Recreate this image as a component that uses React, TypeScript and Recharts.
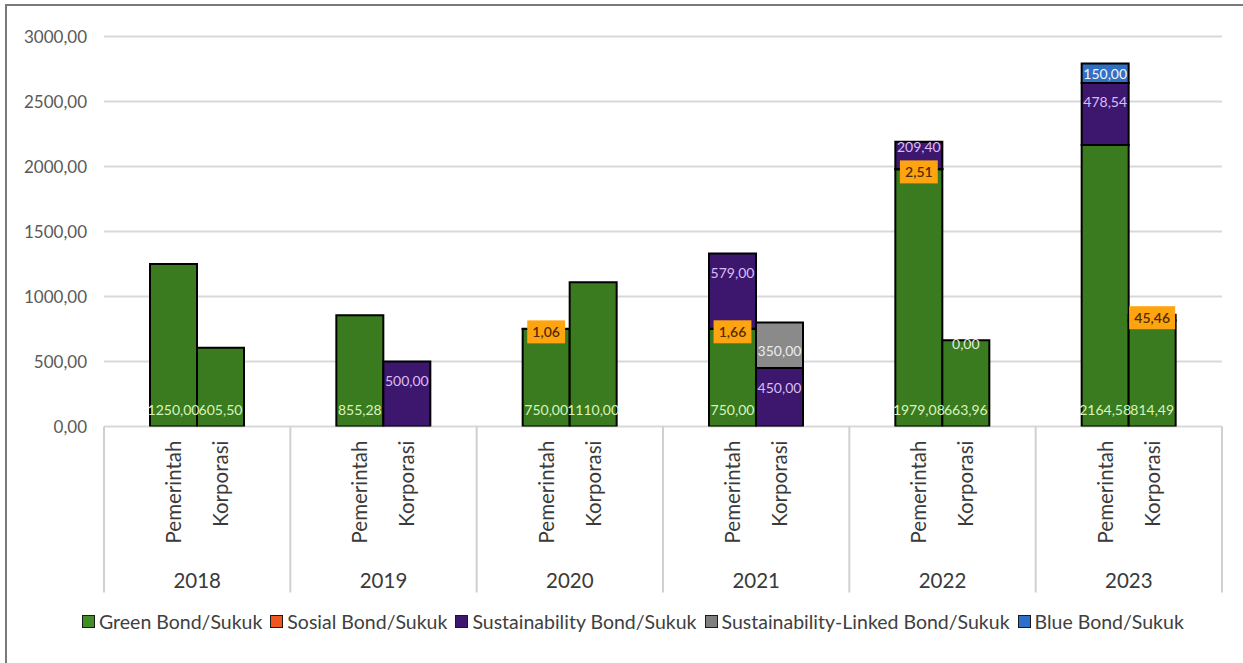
import React from "react";
import { Bar, BarChart, CartesianGrid, LabelList, XAxis, YAxis } from "recharts";

// Issuance per year, split into government (Pemerintah) and corporate (Korporasi) stacks
const years = ["2018", "2019", "2020", "2021", "2022", "2023"];

const govGreen = [1250.0, 855.28, 750.0, 750.0, 1979.08, 2164.58];
const govSosial = [null, null, 1.06, 1.66, 2.51, null];
const govSust = [null, null, null, 579.0, 209.4, 478.54];
const govLinked = [null, null, null, null, null, null];
const govBlue = [null, null, null, null, null, 150.0];

const corpGreen = [605.5, null, 1110.0, null, 663.96, 814.49];
const corpSosial = [null, null, null, null, null, 45.46];
const corpSust = [null, 500.0, null, 450.0, null, null];
const corpLinked = [null, null, null, 350.0, 0, null];
const corpBlue = [null, null, null, null, null, null];

const yTicks = [0, 500, 1000, 1500, 2000, 2500, 3000];
const subLabels = ["Pemerintah", "Korporasi"];

const series = [
  { key: "green", name: "Green Bond/Sukuk", color: "#3a7b1f", legend: "#3f8f26", gov: govGreen, corp: corpGreen },
  { key: "sosial", name: "Sosial Bond/Sukuk", color: "#ee5a24", legend: "#f0561f", gov: govSosial, corp: corpSosial },
  { key: "sust", name: "Sustainability Bond/Sukuk", color: "#3d176e", legend: "#3d176e", gov: govSust, corp: corpSust },
  { key: "linked", name: "Sustainability-Linked Bond/Sukuk", color: "#8a8a8a", legend: "#7f7f7f", gov: govLinked, corp: corpLinked },
  { key: "blue", name: "Blue Bond/Sukuk", color: "#3170c2", legend: "#2e6fc9", gov: govBlue, corp: corpBlue },
];

const rows = years.map((year, i) => {
  const row: Record<string, string | number | null> = { year };
  series.forEach((s) => {
    row["g_" + s.key] = s.gov[i];
    row["k_" + s.key] = s.corp[i];
  });
  return row;
});

const W = 1243;
const H = 663;
const PLOT_LEFT = 104;
const PLOT_RIGHT = 1222;
const PLOT_BOTTOM = 426.5;
const HALF_BAND = (PLOT_RIGHT - PLOT_LEFT) / years.length / 2;
const FONT = "Lato, 'Open Sans', sans-serif";
const LABEL_SIZE = 14;

const fmt = (v: number) => v.toFixed(2).replace(".", ",");

function textWidth(s: string, size: number) {
  let w = 0;
  for (const ch of s) w += ch === "," ? 0.25 : 0.58;
  return w * size;
}

// zero-valued segments above the green part have no height, so their label sits on the bar top
function zeroAbove(stack: string, yearIdx: number) {
  return series
    .filter((s) => s.key !== "green")
    .filter((s) => (stack === "g" ? s.gov[yearIdx] : s.corp[yearIdx]) === 0);
}

function makeLabel(kind: string, stack: string) {
  return (props: any) => {
    const { value } = props;
    if (value === null || value === undefined) return null;
    const x = props.x ?? props.viewBox?.x;
    const y = props.y ?? props.viewBox?.y;
    const width = props.width ?? props.viewBox?.width;
    const height = Math.abs(props.height ?? props.viewBox?.height ?? 0);
    const cx = x + width / 2;
    const yearIdx = Math.floor((cx - PLOT_LEFT) / (2 * HALF_BAND));
    const text = fmt(Number(value));
    const common = {
      x: cx,
      textAnchor: "middle" as const,
      dominantBaseline: "central" as const,
      fontSize: LABEL_SIZE,
    };

    if (kind === "green") {
      return (
        <g>
          <text {...common} y={y + height - 17} fill="#d8f4bd">{text}</text>
          {zeroAbove(stack, yearIdx).map((s) => (
            <text key={s.key} {...common} y={y + 3} fill="#e4eedb">{fmt(0)}</text>
          ))}
        </g>
      );
    }
    if (height < 1 && Number(value) === 0) return null;
    if (kind === "sosial") {
      const bw = textWidth(text, LABEL_SIZE) + 10;
      const cy = y + 3;
      return (
        <g>
          <rect x={cx - bw / 2} y={cy - 11.5} width={bw} height={23} fill="#ffa411" />
          <text {...common} y={cy} fill="#4f2d00" fontWeight={600}>{text}</text>
        </g>
      );
    }
    if (kind === "sust") {
      return <text {...common} y={y + (height > 40 ? 19 : 5)} fill="#d9bdf5">{text}</text>;
    }
    if (kind === "linked") {
      return <text {...common} y={y + height / 2 + 5} fill="#ececec">{text}</text>;
    }
    return <text {...common} y={y + height / 2} fill="#f2f6ff">{text}</text>;
  };
}

function YearTick(props: any) {
  const { x, payload, index } = props;
  const y = PLOT_BOTTOM;
  const sep = "#d0d0d0";
  return (
    <g>
      <line x1={x - HALF_BAND} x2={x - HALF_BAND} y1={y} y2={y + 166} stroke={sep} strokeWidth={2} />
      {index === years.length - 1 && (
        <line x1={x + HALF_BAND} x2={x + HALF_BAND} y1={y} y2={y + 166} stroke={sep} strokeWidth={2} />
      )}
      {subLabels.map((lbl, j) => {
        const px = x + (j === 0 ? -23.5 : 23.5);
        return (
          <text
            key={lbl}
            x={px}
            y={y + 14}
            dy="0.35em"
            textAnchor="end"
            transform={`rotate(-90 ${px} ${y + 14})`}
            fontSize={20.5}
            fill="#3a3a3a"
          >
            {lbl}
          </text>
        );
      })}
      <text x={x} y={y + 153} textAnchor="middle" dominantBaseline="central" fontSize={20.5} fill="#3a3a3a">
        {payload.value}
      </text>
    </g>
  );
}

export default function App() {
  return (
    <div
      style={{
        position: "absolute",
        left: 0,
        top: 0,
        width: W,
        height: H,
        overflow: "hidden",
        background: "#fff",
        fontFamily: FONT,
      }}
    >
      <div
        style={{
          position: "absolute",
          left: 5,
          top: 4,
          width: W + 20,
          height: H + 20,
          border: "2px solid #7a7a7a",
          boxSizing: "border-box",
        }}
      />
      <BarChart
        width={W}
        height={H}
        data={rows}
        margin={{ top: 36.5, right: W - PLOT_RIGHT, left: 14, bottom: H - PLOT_BOTTOM - 166 }}
        barGap={0}
        barSize={47}
        style={{ position: "absolute", left: 0, top: 0 }}
      >
        <CartesianGrid horizontal vertical={false} stroke="#d9d9d9" strokeWidth={2} />
        <XAxis
          dataKey="year"
          height={166}
          axisLine={false}
          tickLine={false}
          tickSize={0}
          tickMargin={0}
          interval={0}
          tick={<YearTick />}
        />
        <YAxis
          width={90}
          domain={[0, 3000]}
          ticks={yTicks}
          allowDataOverflow
          axisLine={false}
          tickLine={false}
          tickSize={0}
          tickMargin={17}
          tickFormatter={(v: number) => fmt(v)}
          tick={{ fontSize: 17, fill: "#595959" }}
        />
        {["g", "k"].map((stack) =>
          series.map((s) => (
            <Bar
              key={stack + s.key}
              dataKey={stack + "_" + s.key}
              stackId={stack}
              fill={s.color}
              stroke="#000"
              strokeWidth={2}
              isAnimationActive={false}
            >
              <LabelList dataKey={stack + "_" + s.key} content={makeLabel(s.key, stack)} />
            </Bar>
          ))
        )}
      </BarChart>
      <div
        style={{
          position: "absolute",
          left: 82,
          top: 610,
          display: "flex",
          alignItems: "center",
          gap: 8,
          fontSize: 19.5,
          color: "#404040",
          whiteSpace: "nowrap",
        }}
      >
        {series.map((s) => (
          <div key={s.key} style={{ display: "flex", alignItems: "center", gap: 4 }}>
            <span
              style={{
                display: "inline-block",
                width: 11,
                height: 11,
                background: s.legend,
                border: "1.5px solid #1a1a1a",
              }}
            />
            <span>{s.name}</span>
          </div>
        ))}
      </div>
    </div>
  );
}
